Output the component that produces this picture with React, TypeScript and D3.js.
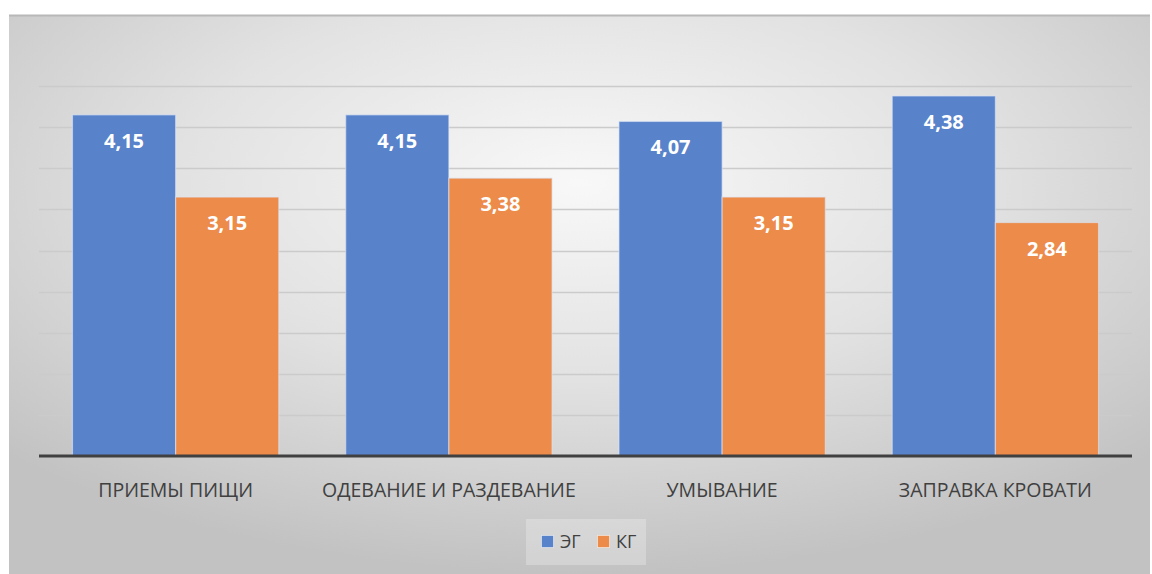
import React from "react";
import * as d3 from "d3";

const categories = ["ПРИЕМЫ ПИЩИ", "ОДЕВАНИЕ И РАЗДЕВАНИЕ", "УМЫВАНИЕ", "ЗАПРАВКА КРОВАТИ"];
const seriesNames = ["ЭГ", "КГ"];
const egValues = [4.15, 4.15, 4.07, 4.38];
const kgValues = [3.15, 3.38, 3.15, 2.84];
const gridTicks = [0.5, 1, 1.5, 2, 2.5, 3, 3.5, 4, 4.5];

const W = 1152;
const H = 574;
const colors = ["#5882CA", "#EC8B4A"];
const font = "'Open Sans', 'Noto Sans', sans-serif";

export default function App() {
  const left = 39, right = 1132, top = 45, bottom = 456;
  const x0 = d3.scaleBand<string>().domain(categories).range([left, right]).paddingInner(0.245).paddingOuter(0.1225);
  const x1 = d3.scaleBand<string>().domain(seriesNames).range([0, x0.bandwidth()]).padding(0);
  const y = d3.scaleLinear().domain([0, 5]).range([bottom, top]);
  const series = [egValues, kgValues];
  const fmt = (v: number) => v.toFixed(2).replace(".", ",");

  return (
    <svg width={W} height={H} style={{ position: "absolute", left: 0, top: 0 }}>
      <defs>
        <radialGradient id="bg" cx="50%" cy="30%" r="70%" fx="50%" fy="30%">
          <stop offset="0%" stopColor="#f8f8f8" />
          <stop offset="50%" stopColor="#e2e2e2" />
          <stop offset="100%" stopColor="#c2c2c2" />
        </radialGradient>
      </defs>
      <rect x={0} y={0} width={W} height={H} fill="#ffffff" />
      <rect x={9} y={15} width={1141} height={H - 15} fill="url(#bg)" />
      <line x1={9} x2={1150} y1={15.5} y2={15.5} stroke="#b8b8b8" strokeWidth={2} />
      {gridTicks.map((t) => (
        <line key={t} x1={left} x2={right} y1={Math.round(y(t)) + 0.5} y2={Math.round(y(t)) + 0.5} stroke="#cbcbcb" strokeWidth={1.3} />
      ))}
      {categories.map((c, i) => (
        <g key={c}>
          {series.map((vals, s) => {
            const bx = (x0(c) as number) + (x1(seriesNames[s]) as number);
            const bw = x1.bandwidth();
            const by = y(vals[i]);
            return (
              <g key={s}>
                <rect x={bx} y={by} width={bw} height={bottom - by} fill={colors[s]} stroke="#dde6f5" strokeOpacity={0.6} strokeWidth={1.2} />
                <text x={bx + bw / 2} y={by + 33} textAnchor="middle" fill="#ffffff" fontFamily={font} fontWeight={700} fontSize={20}>
                  {fmt(vals[i])}
                </text>
              </g>
            );
          })}
          <text x={(x0(c) as number) + x0.bandwidth() / 2} y={497} textAnchor="middle" fill="#404040" fontFamily={font} fontSize={19.5}>
            {c}
          </text>
        </g>
      ))}
      <line x1={left} x2={right} y1={bottom} y2={bottom} stroke="#404040" strokeWidth={3} />
      <rect x={526} y={519} width={120} height={46} fill="#ffffff" opacity={0.25} />
      {seriesNames.map((n, s) => (
        <g key={n} transform={`translate(${541 + s * 56},535)`}>
          <rect x={0.5} y={0.5} width={12} height={12} fill={colors[s]} stroke="#ffffff" strokeOpacity={0.5} />
          <text x={19} y={13} fill="#404040" fontFamily={font} fontSize={18}>{n}</text>
        </g>
      ))}
    </svg>
  );
}
